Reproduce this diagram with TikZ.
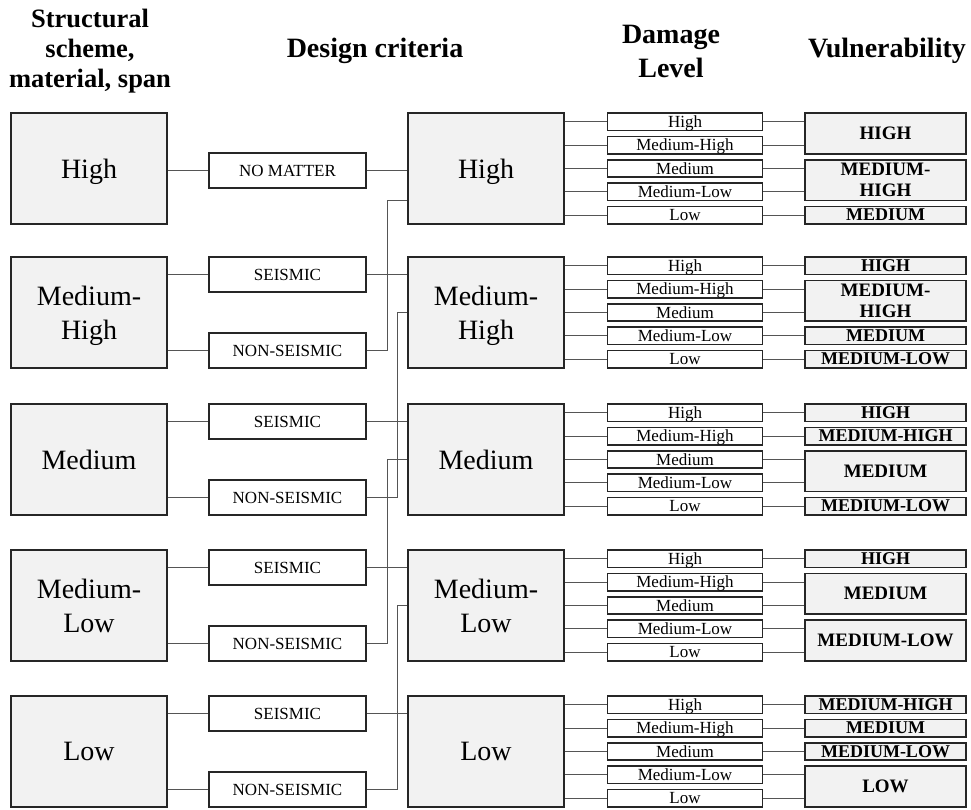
\documentclass[tikz,border=0pt]{standalone}
\usepackage{fontspec}
\setmainfont{Liberation Serif}
\usetikzlibrary{calc}

\definecolor{boxfill}{HTML}{F2F2F2}
\definecolor{edgecol}{HTML}{262626}
\definecolor{wirecol}{HTML}{555555}

\tikzset{
  bigbox/.style={draw=edgecol, line width=1.3pt, fill=boxfill,
    minimum width=156pt, minimum height=111pt, inner sep=0pt, align=center,
    text depth=0pt, font=\fontsize{28}{34}\selectfont},
  critbox/.style={draw=edgecol, line width=1.3pt, fill=white,
    minimum width=157pt, minimum height=35pt, inner sep=0pt,
    font=\fontsize{17}{20}\selectfont},
  dmgbox/.style={draw=edgecol, line width=1.7pt, fill=white,
    minimum width=155pt, minimum height=17.5pt, inner sep=0pt,
    text height=11pt, text depth=0pt,
    font=\fontsize{17}{20}\selectfont},
  vulbox/.style={draw=edgecol, line width=1.7pt, fill=boxfill,
    minimum width=161pt, inner sep=0pt, align=center,
    font=\bfseries\fontsize{18}{21}\selectfont},
  vsingle/.style={text height=11pt, text depth=0pt},
  vmerged/.style={font=\bfseries\fontsize{19}{21}\selectfont},
  wire/.style={draw=wirecol, line width=1pt},
  head/.style={align=center, inner sep=0pt,
    font=\bfseries\fontsize{28}{34}\selectfont},
}

% vulnerability box spanning damage rows #3..#4 of group #1 (top #2)
\newcommand\vulnbox[7]{%
  \pgfmathsetmacro\vlo{#2+#3*23.375}%
  \pgfmathsetmacro\vhi{#2+#4*23.375+17.5}%
  \node[vulbox,#5,minimum height=\vhi-\vlo] (#6) at (885.5,{(\vlo+\vhi)/2}) {#7};
  \foreach \k in {#3,...,#4}{\draw[wire] (d#1-\k.east) -- (d#1-\k.east -| #6.west);}
}

\begin{document}
\begin{tikzpicture}[x=1pt,y=-1pt]
\useasboundingbox (0,0) rectangle (971,809);

% column headings
\node[head, font=\bfseries\fontsize{26.5}{30}\selectfont] (h1) at (90,51) {Structural\\scheme,\\material, span};
\node[head] (h2) at (375,51) {Design criteria};
\node[head] (h3) at (671,51) {Damage\\Level};
\node[head] (h4) at (887,51) {Vulnerability};

% structural classes (left) and resulting classes (middle)
\node[bigbox] (s1) at (89,168.5) {High};
\node[bigbox] (s2) at (89,312.5) {Medium-\\High};
\node[bigbox] (s3) at (89,459.5) {Medium};
\node[bigbox] (s4) at (89,605.5) {Medium-\\Low};
\node[bigbox] (s5) at (89,751.5) {Low};

\node[bigbox] (c1) at (486,168.5) {High};
\node[bigbox] (c2) at (486,312.5) {Medium-\\High};
\node[bigbox] (c3) at (486,459.5) {Medium};
\node[bigbox] (c4) at (486,605.5) {Medium-\\Low};
\node[bigbox] (c5) at (486,751.5) {Low};

% design criteria
\node[critbox] (k1) at (287.5,170.5) {NO MATTER};
\foreach \g/\T in {2/257,3/404,4/550,5/696}{
  \node[critbox] (se\g) at (287.5,\T+17.5) {SEISMIC};
  \node[critbox] (ns\g) at (287.5,\T+93.5) {NON-SEISMIC};
  \draw[wire] (se\g.west -| s\g.east) -- (se\g.west);
  \draw[wire] (ns\g.west -| s\g.east) -- (ns\g.west);
  \draw[wire] (se\g.east) -- (se\g.east -| c\g.west);
}
\draw[wire] (k1.west -| s1.east) -- (k1.west);
\draw[wire] (k1.east) -- (k1.east -| c1.west);

% non-seismic design drops one class
\draw[wire] (ns2.east) -- ++(21,0) |- ([yshift=-31.5pt]c1.west);
\draw[wire] (ns3.east) -- ++(31,0) |- (c2.west);
\draw[wire] (ns4.east) -- ++(21,0) |- (c3.west);
\draw[wire] (ns5.east) -- ++(31,0) |- (c4.west);

% damage levels
\foreach \g/\T in {1/113,2/257,3/404,4/550,5/696}{
  \foreach \lab [count=\k from 0] in {High,Medium-High,Medium,Medium-Low,Low}{
    \node[dmgbox] (d\g-\k) at (685,{\T+8.75+\k*23.375}) {\lab};
    \draw[wire] (d\g-\k.west -| c\g.east) -- (d\g-\k.west);
  }
}

% vulnerability
\vulnbox{1}{113}{0}{1}{vmerged}{v1a}{HIGH}
\vulnbox{1}{113}{2}{3}{vmerged}{v1b}{MEDIUM-\\HIGH}
\vulnbox{1}{113}{4}{4}{vsingle}{v1c}{MEDIUM}

\vulnbox{2}{257}{0}{0}{vsingle}{v2a}{HIGH}
\vulnbox{2}{257}{1}{2}{vmerged}{v2b}{MEDIUM-\\HIGH}
\vulnbox{2}{257}{3}{3}{vsingle}{v2c}{MEDIUM}
\vulnbox{2}{257}{4}{4}{vsingle}{v2d}{MEDIUM-LOW}

\vulnbox{3}{404}{0}{0}{vsingle}{v3a}{HIGH}
\vulnbox{3}{404}{1}{1}{vsingle}{v3b}{MEDIUM-HIGH}
\vulnbox{3}{404}{2}{3}{vmerged}{v3c}{MEDIUM}
\vulnbox{3}{404}{4}{4}{vsingle}{v3d}{MEDIUM-LOW}

\vulnbox{4}{550}{0}{0}{vsingle}{v4a}{HIGH}
\vulnbox{4}{550}{1}{2}{vmerged}{v4b}{MEDIUM}
\vulnbox{4}{550}{3}{4}{vmerged}{v4c}{MEDIUM-LOW}

\vulnbox{5}{696}{0}{0}{vsingle}{v5a}{MEDIUM-HIGH}
\vulnbox{5}{696}{1}{1}{vsingle}{v5b}{MEDIUM}
\vulnbox{5}{696}{2}{2}{vsingle}{v5c}{MEDIUM-LOW}
\vulnbox{5}{696}{3}{4}{vmerged}{v5d}{LOW}
\end{tikzpicture}
\end{document}
